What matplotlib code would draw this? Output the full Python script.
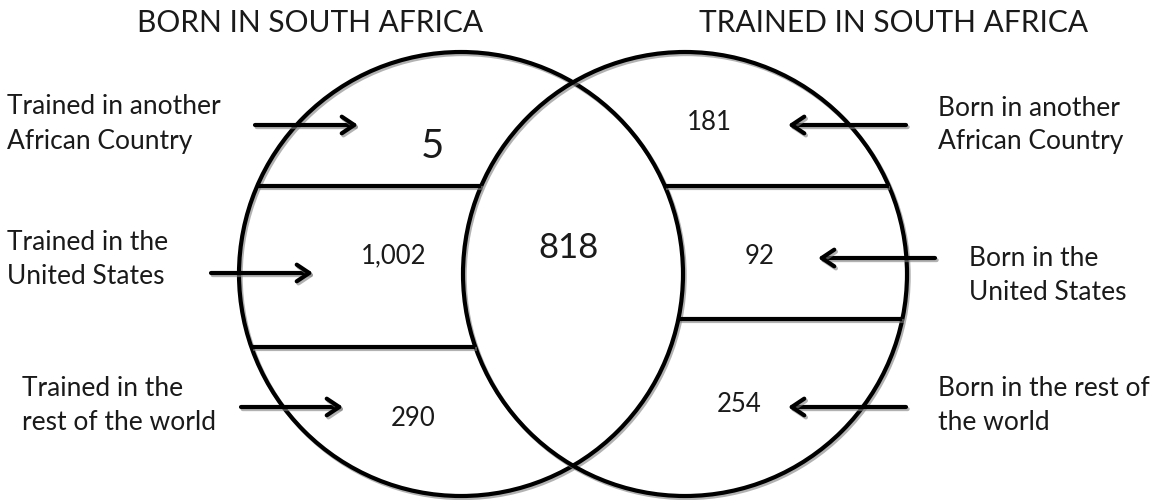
import numpy as np
import matplotlib
matplotlib.use("Agg")
from matplotlib import pyplot as plt
from matplotlib import patheffects as pe
from matplotlib.patches import Circle

TITLES = ("BORN IN SOUTH AFRICA", "TRAINED IN SOUTH AFRICA")

LEFT_LABELS = ("Trained in another\nAfrican Country",
               "Trained in the\nUnited States",
               "Trained in the\nrest of the world")
LEFT_COUNTS = [5, 1002, 290]  # born in SA, trained elsewhere

RIGHT_LABELS = ("Born in another\nAfrican Country",
                "Born in the\nUnited States",
                "Born in the rest of\nthe world")
RIGHT_COUNTS = [181, 92, 254]  # trained in SA, born elsewhere

BOTH_COUNT = 818

plt.rcParams['font.family'] = ['Lato', 'DejaVu Sans']

fig = plt.figure(figsize=(11.62, 5), dpi=100)
ax = fig.add_axes([0, 0, 1, 1])
ax.set_xlim(0, 1162)
ax.set_ylim(500, 0)
ax.set_aspect("equal")
ax.axis("off")

shadow = [pe.SimpleLineShadow(offset=(1.2, -1.5), shadow_color="gray", alpha=0.6), pe.Normal()]

r = 222
cl = (461, 274)  # левый круг
cr = (685, 274)  # правый круг
for c in (cl, cr):
    ax.add_patch(Circle(c, r, fill=False, lw=3, ec="black", path_effects=shadow))


def arc_x(c, y, side):
    return c[0] + side * np.sqrt(r ** 2 - (y - c[1]) ** 2)


# разделительные линии
for y in (186, 347):
    ax.plot([arc_x(cl, y, -1), arc_x(cr, y, -1)], [y, y], color="black", lw=3,
            solid_capstyle="butt", path_effects=shadow)
for y in (186, 319):
    ax.plot([arc_x(cl, y, 1), arc_x(cr, y, 1)], [y, y], color="black", lw=3,
            solid_capstyle="butt", path_effects=shadow)

ax.text(310, 23, TITLES[0], ha="center", va="center", fontsize=21.5, color="#1a1a1a")
ax.text(894, 23, TITLES[1], ha="center", va="center", fontsize=21.5, color="#1a1a1a")

left_label_pos = [(7, 124), (7, 259), (22, 405)]
left_num_pos = [(432, 146), (394, 256), (413, 419)]
left_num_size = [29, 18.5, 18.5]
left_arrows = [((255, 125), (358, 125)), ((211, 273), (313, 273)), ((241, 407), (343, 407))]

right_label_pos = [(938, 125), (969, 275), (938, 406)]
right_num_pos = [(709, 123), (760, 257), (739, 405)]
right_arrows = [((906, 125), (788, 125)), ((935, 258), (818, 258)), ((906, 407), (788, 407))]

arrow_props = dict(arrowstyle="->,head_length=0.9,head_width=0.6", lw=3, color="black",
                   shrinkA=0, shrinkB=0, path_effects=shadow)

for lab, pos, cnt, npos, nsz, (a, b) in zip(LEFT_LABELS, left_label_pos, LEFT_COUNTS,
                                            left_num_pos, left_num_size, left_arrows):
    ax.text(pos[0], pos[1], lab, ha="left", va="center", fontsize=19,
            linespacing=1.45, color="#1a1a1a")
    ax.text(npos[0], npos[1], f"{cnt:,}", ha="center", va="center", fontsize=nsz, color="#1a1a1a")
    ax.annotate("", xy=b, xytext=a, arrowprops=arrow_props)

for lab, pos, cnt, npos, (a, b) in zip(RIGHT_LABELS, right_label_pos, RIGHT_COUNTS,
                                       right_num_pos, right_arrows):
    ax.text(pos[0], pos[1], lab, ha="left", va="center", fontsize=19,
            linespacing=1.45, color="#1a1a1a")
    ax.text(npos[0], npos[1], f"{cnt:,}", ha="center", va="center", fontsize=18.5, color="#1a1a1a")
    ax.annotate("", xy=b, xytext=a, arrowprops=arrow_props)

ax.text(569, 248, f"{BOTH_COUNT:,}", ha="center", va="center", fontsize=25, color="#1a1a1a")

fig.savefig("out.png", dpi=100)
